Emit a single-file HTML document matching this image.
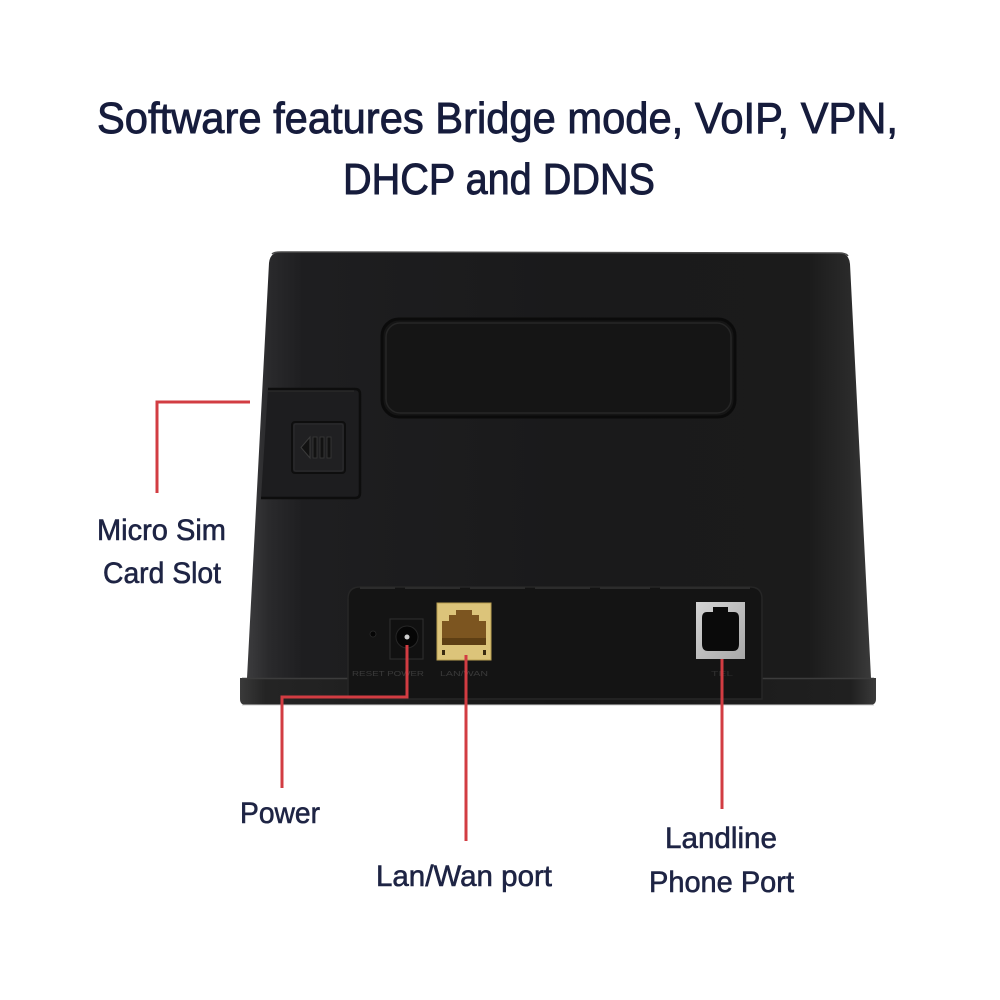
<!DOCTYPE html>
<html>
<head>
<meta charset="utf-8">
<style>
  html,body{margin:0;padding:0;background:#ffffff;}
  svg{display:block;}
  .t{font-family:"Liberation Sans",sans-serif;fill:#161c3c;stroke:#161c3c;stroke-width:0.9px;}
  .l{font-family:"Liberation Sans",sans-serif;fill:#1e2444;stroke:#1e2444;stroke-width:0.6px;font-size:30px;}
</style>
</head>
<body>
<svg width="1000" height="1000" viewBox="0 0 1000 1000" xmlns="http://www.w3.org/2000/svg">
  <defs>
    <linearGradient id="bodyG" x1="0" y1="0" x2="1" y2="0">
      <stop offset="0" stop-color="#3c3c3e"/>
      <stop offset="0.035" stop-color="#2a2a2c"/>
      <stop offset="0.09" stop-color="#1e1e20"/>
      <stop offset="0.5" stop-color="#1a1a1b"/>
      <stop offset="0.9" stop-color="#1b1b1b"/>
      <stop offset="0.965" stop-color="#2a2a2a"/>
      <stop offset="1" stop-color="#3a3a3a"/>
    </linearGradient>
    <linearGradient id="baseG" x1="0" y1="0" x2="1" y2="0">
      <stop offset="0" stop-color="#3a3a3a"/>
      <stop offset="0.04" stop-color="#242424"/>
      <stop offset="0.5" stop-color="#161616"/>
      <stop offset="0.96" stop-color="#202020"/>
      <stop offset="1" stop-color="#3a3a3a"/>
    </linearGradient>
    <linearGradient id="phoneG" x1="0" y1="0" x2="1" y2="1">
      <stop offset="0" stop-color="#d4d4d4"/>
      <stop offset="1" stop-color="#a8a8a8"/>
    </linearGradient>
  </defs>

  <!-- Title -->
  <text class="t" x="97" y="133" font-size="44" textLength="801" lengthAdjust="spacingAndGlyphs">Software features Bridge mode, VoIP, VPN,</text>
  <text class="t" x="343" y="194" font-size="44" textLength="312" lengthAdjust="spacingAndGlyphs">DHCP and DDNS</text>

  <!-- Router body -->
  <path d="M247,678 L269,263 Q270,252 281,252 L839,253 Q849,253 850,264 L871,678 Z" fill="url(#bodyG)"/>
  <path d="M272,254 Q274,252 281,252 L839,253 Q846,253 848,256" fill="none" stroke="#4a4a4a" stroke-width="1.5"/>

  <!-- Base -->
  <path d="M240,678 L876,678 L876,699 Q876,705 870,705 L246,705 Q240,705 240,699 Z" fill="url(#baseG)"/>
  <line x1="242" y1="678.5" x2="874" y2="678.5" stroke="#3c3c3c" stroke-width="1.5"/>
  <line x1="242" y1="705" x2="874" y2="705" stroke="#cfcfcf" stroke-width="1"/>

  <!-- Antenna cover -->
  <rect x="382" y="319" width="353" height="98" rx="17" ry="17" fill="#151515" stroke="#0b0b0b" stroke-width="3"/>
  <rect x="386" y="323" width="345" height="90" rx="14" ry="14" fill="none" stroke="#262626" stroke-width="1.5"/>

  <!-- SIM door -->
  <path d="M268,389 L355,389 Q360,389 360,394 L360,493 Q360,498 355,498 L261,498" fill="#1d1d1f" stroke="#0d0d0d" stroke-width="2.5"/>
  <path d="M268,391 L354,391" stroke="#2e2e2e" stroke-width="1"/>
  <rect x="292" y="422" width="53" height="51" rx="3" fill="#202022" stroke="#0e0e0e" stroke-width="2"/>
  <rect x="294" y="424" width="49" height="47" rx="2" fill="none" stroke="#2c2c2e" stroke-width="1"/>
  <polygon points="310,437 301,447.5 310,458" fill="#121212" stroke="#3a3a3a" stroke-width="1"/>
  <rect x="313" y="437" width="4" height="21" fill="#121212" stroke="#3a3a3a" stroke-width="0.8"/>
  <rect x="320" y="437" width="4" height="21" fill="#121212" stroke="#3a3a3a" stroke-width="0.8"/>
  <rect x="327" y="437" width="4" height="21" fill="#121212" stroke="#3a3a3a" stroke-width="0.8"/>

  <!-- Port panel -->
  <path d="M360,587 L750,587 Q762,587 762,599 L762,699 L348,699 L348,599 Q348,587 360,587 Z" fill="#141414" stroke="#262626" stroke-width="1.5"/>
  <g stroke="#2c2c2c" stroke-width="2">
    <line x1="360" y1="588" x2="395" y2="588"/>
    <line x1="405" y1="588" x2="460" y2="588"/>
    <line x1="470" y1="588" x2="525" y2="588"/>
    <line x1="535" y1="588" x2="590" y2="588"/>
    <line x1="600" y1="588" x2="650" y2="588"/>
    <line x1="660" y1="588" x2="750" y2="588"/>
  </g>

  <!-- Reset hole -->
  <circle cx="373" cy="634" r="3" fill="#050505" stroke="#2a2a2a" stroke-width="0.8"/>
  <!-- Power jack -->
  <rect x="390" y="619" width="33" height="40" fill="#111111" stroke="#2c2c2c" stroke-width="1.2"/>
  <circle cx="407" cy="637" r="11" fill="#060606" stroke="#262626" stroke-width="1"/>
  <circle cx="407" cy="637" r="2.5" fill="#cfcfcf"/>

  <!-- LAN port -->
  <rect x="437" y="603" width="54" height="57" fill="#dcc47a" stroke="#b89e50" stroke-width="1"/>
  <path d="M456,610 L472,610 L472,615 L479,615 L479,621 L486,621 L486,645 L442,645 L442,621 L449,621 L449,615 L456,615 Z" fill="#7c5520"/>
  <rect x="442" y="638" width="44" height="7" fill="#5e3f14"/>
  <rect x="442" y="650" width="3" height="5" fill="#3a2a10"/>
  <rect x="483" y="650" width="3" height="5" fill="#3a2a10"/>

  <!-- Phone jack -->
  <rect x="696" y="602" width="49" height="57" fill="url(#phoneG)"/>
  <path d="M713,607 L728,607 L728,612 L734,612 Q739,612 739,618 L739,644 Q739,651 733,651 L708,651 Q702,651 702,644 L702,618 Q702,612 707,612 L713,612 Z" fill="#0a0a0a"/>

  <!-- tiny port labels -->
  <text x="352" y="676" font-family="Liberation Sans, sans-serif" font-size="7.5" fill="#3a3a3a" textLength="72" lengthAdjust="spacingAndGlyphs">RESET POWER</text>
  <text x="440" y="676" font-family="Liberation Sans, sans-serif" font-size="7.5" fill="#3a3a3a" textLength="48" lengthAdjust="spacingAndGlyphs">LAN/WAN</text>
  <text x="711" y="676" font-family="Liberation Sans, sans-serif" font-size="7.5" fill="#2e2e2e" textLength="22" lengthAdjust="spacingAndGlyphs">TEL</text>

  <!-- Red leader lines -->
  <g fill="none" stroke="#d23c42" stroke-width="3" stroke-linejoin="miter">
    <polyline points="250,402 157,402 157,493"/>
    <polyline points="407,645 407,697 282,697 282,788"/>
    <line x1="466" y1="655" x2="466" y2="841"/>
    <line x1="722" y1="659" x2="722" y2="809"/>
  </g>

  <!-- Labels -->
  <text class="l" x="97" y="540" textLength="129" lengthAdjust="spacingAndGlyphs">Micro Sim</text>
  <text class="l" x="103" y="583" textLength="118" lengthAdjust="spacingAndGlyphs">Card Slot</text>
  <text class="l" x="240" y="823" textLength="80" lengthAdjust="spacingAndGlyphs">Power</text>
  <text class="l" x="376" y="886" textLength="176" lengthAdjust="spacingAndGlyphs">Lan/Wan port</text>
  <text class="l" x="665" y="848" textLength="112" lengthAdjust="spacingAndGlyphs">Landline</text>
  <text class="l" x="649" y="892" textLength="145" lengthAdjust="spacingAndGlyphs">Phone Port</text>
</svg>
</body>
</html>
